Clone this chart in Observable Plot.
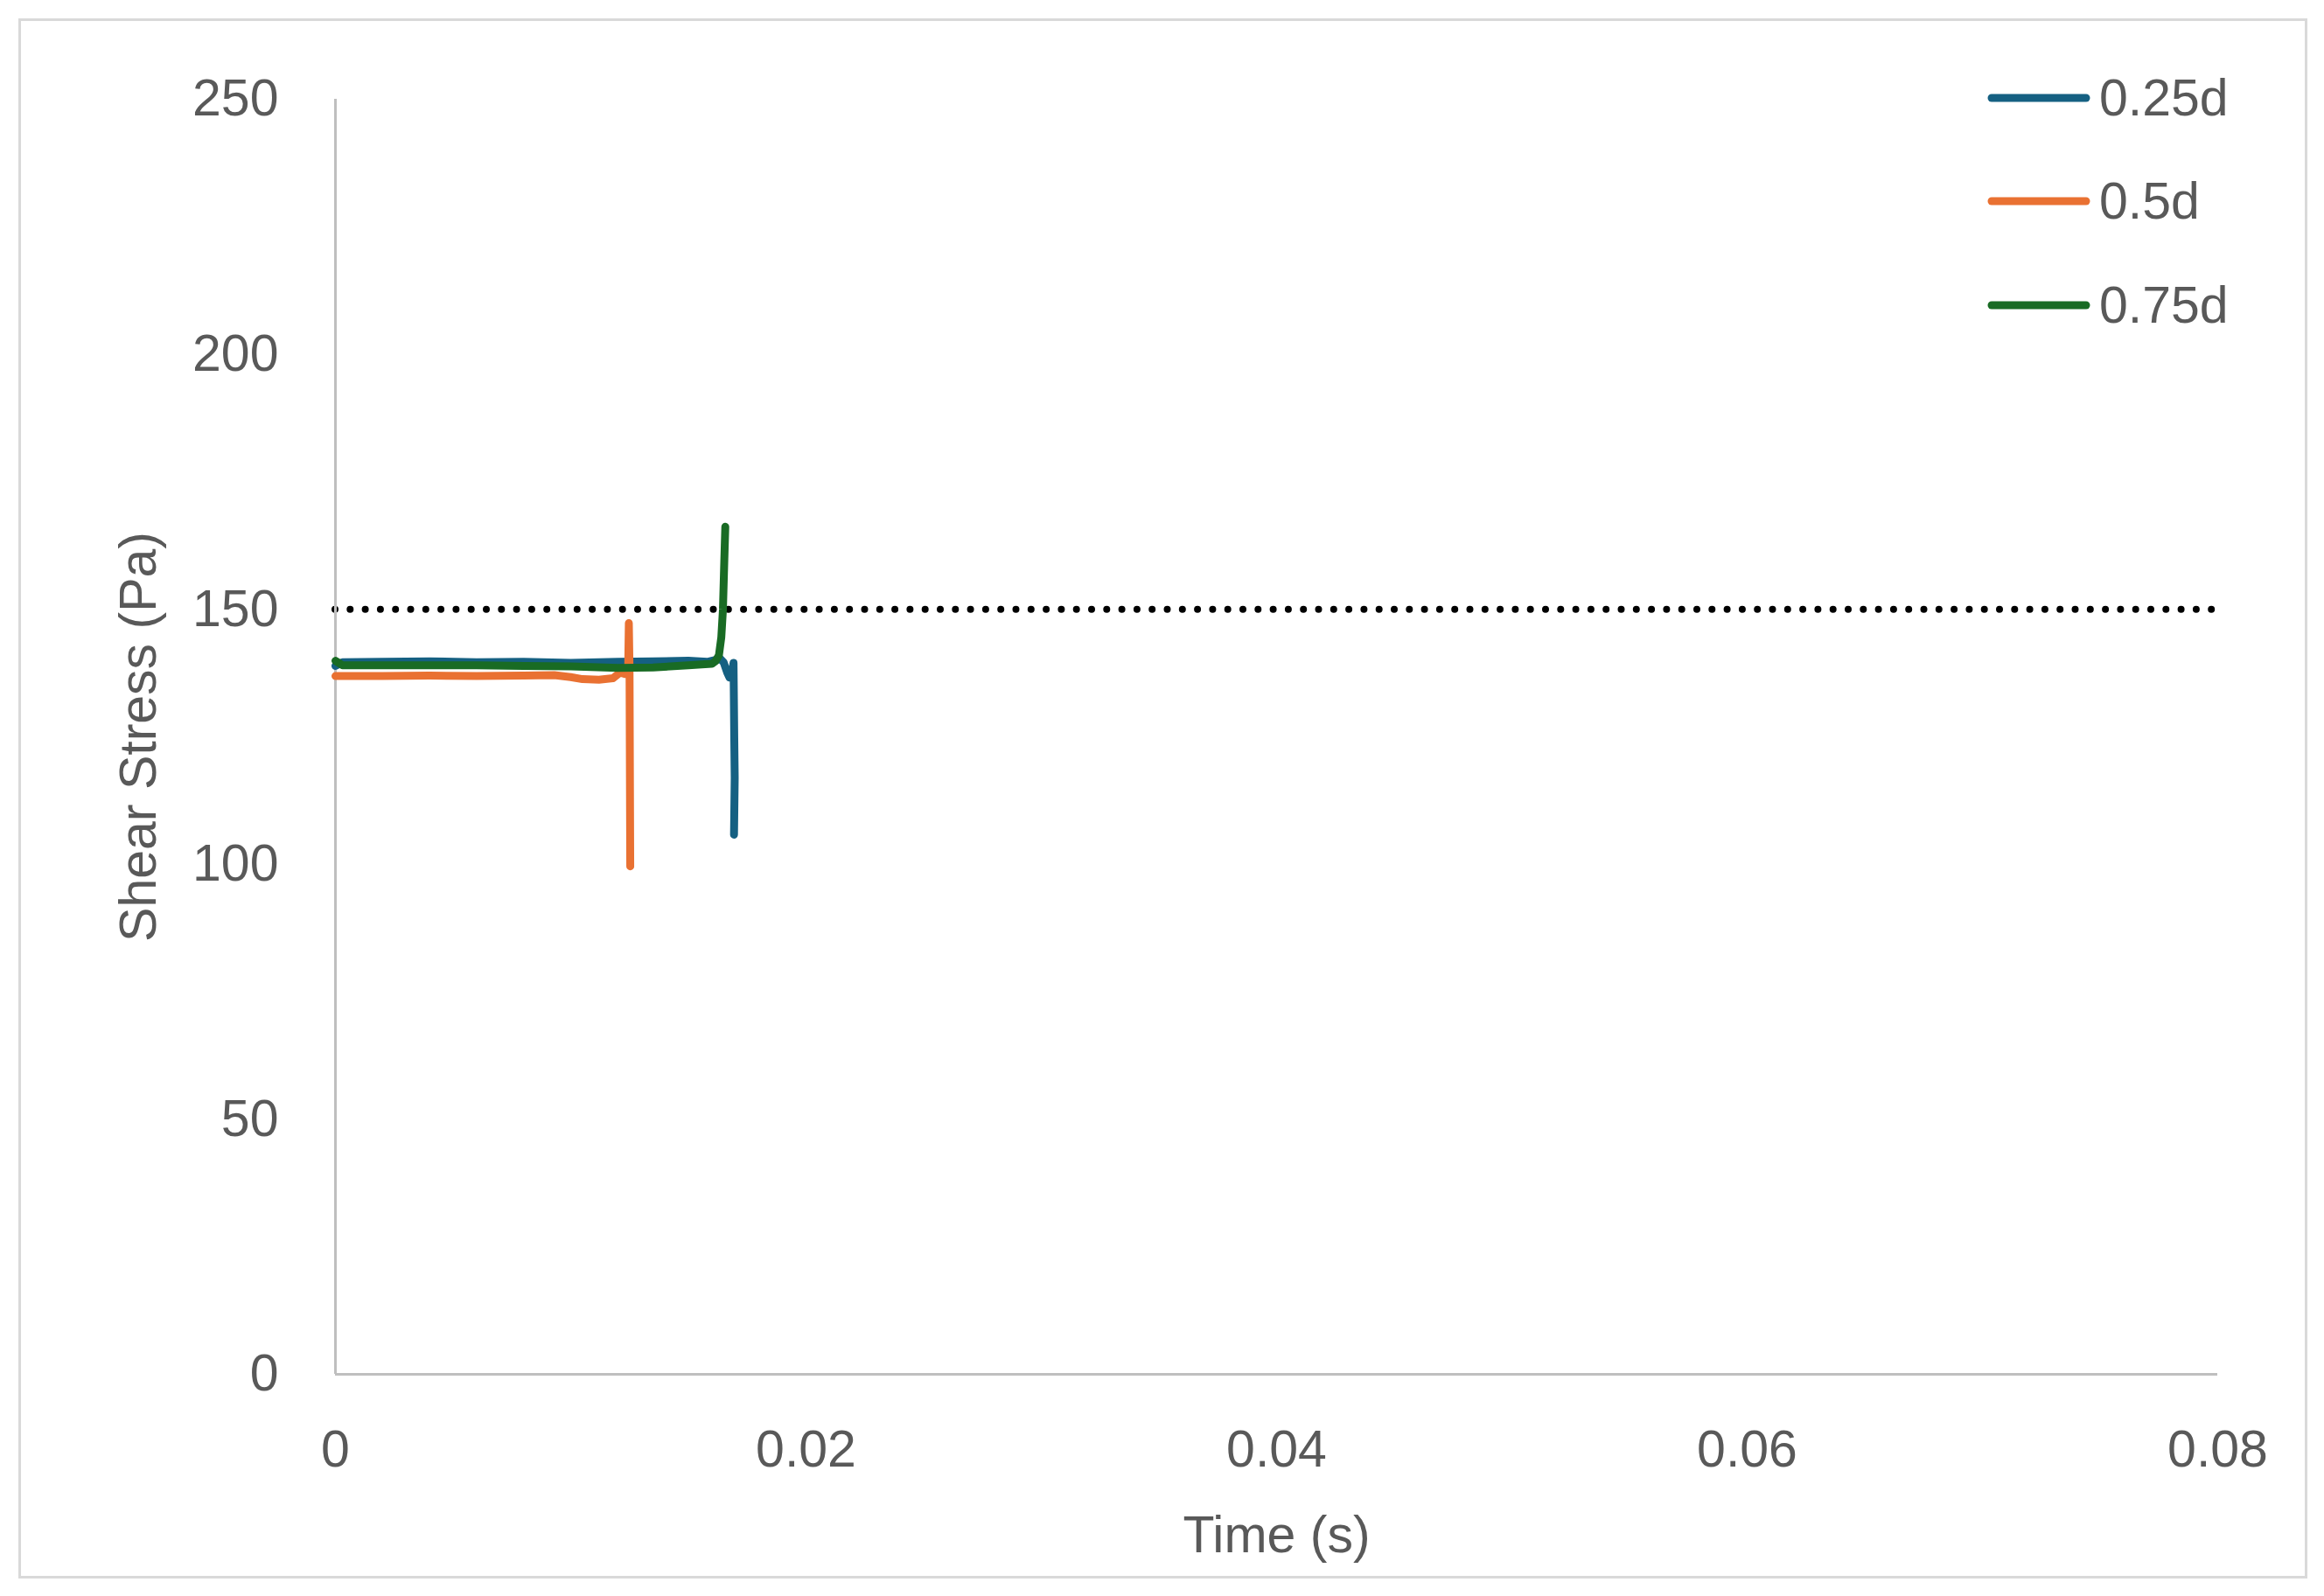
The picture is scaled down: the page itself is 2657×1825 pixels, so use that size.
<!DOCTYPE html>
<html>
<head>
<meta charset="utf-8">
<script src="https://cdn.jsdelivr.net/npm/d3@7"></script>
<script src="https://cdn.jsdelivr.net/npm/@observablehq/plot@0.6"></script>
<style>
  html, body { margin: 0; padding: 0; background: #fff; overflow: hidden; }
  #wrap { position: relative; width: 2657px; height: 1825px; }
  #border { position: absolute; left: 21px; top: 21px; width: 2617px; height: 1784px; box-sizing: border-box; border: 3px solid #D9D9D9; pointer-events: none; }
  #legend { position: absolute; left: 2272px; top: 0; font-family: "Liberation Sans", Arial, sans-serif; font-size: 59px; color: #595959; }
  .row { position: absolute; left: 0; display: flex; align-items: center; white-space: nowrap; transform: translateY(-50%); }
  .row svg { display: block; margin-right: 10px; }
</style>
</head>
<body>
<div id="wrap"><div id="border"></div><div id="legend"></div></div>
<script>
// Series names and colours
const seriesNames = ["0.25d", "0.5d", "0.75d"];
const seriesColors = ["#156082", "#E97132", "#196B24"];

// 0.25d : time (s) and shear stress (Pa)
const t025 = [0, 0.0003, 0.002, 0.004, 0.006, 0.008, 0.010, 0.012, 0.0135, 0.0150, 0.0158, 0.01635, 0.01650, 0.01665, 0.01675, 0.01685, 0.01692, 0.01695, 0.01697, 0.01694];
const v025 = [138.9, 139.6, 139.7, 139.8, 139.6, 139.7, 139.5, 139.7, 139.8, 139.9, 139.7, 140.3, 139.6, 137.6, 136.6, 137.2, 139.5, 125.0, 117.0, 105.8];

// 0.5d
const t05 = [0, 0.002, 0.004, 0.006, 0.008, 0.0093, 0.0100, 0.0105, 0.0112, 0.0118, 0.0121, 0.0123, 0.01244, 0.01247, 0.01250, 0.01253];
const v05 = [136.9, 136.9, 137.0, 136.9, 137.0, 137.1, 136.7, 136.3, 136.2, 136.5, 137.6, 137.3, 137.8, 147.3, 138.0, 99.6];

// 0.75d
const t075 = [0, 0.0003, 0.002, 0.004, 0.006, 0.008, 0.010, 0.012, 0.0135, 0.0150, 0.0160, 0.01615, 0.01630, 0.01640, 0.01647, 0.01653, 0.01657];
const v075 = [139.9, 139.0, 139.0, 139.0, 139.0, 138.9, 138.8, 138.5, 138.6, 139.0, 139.3, 139.8, 141.0, 144.5, 150.0, 160.0, 166.2];

// Reference threshold
const threshold = [150];

// Axis ticks
const xTicks = [0, 0.02, 0.04, 0.06, 0.08];
const yTicks = [0, 50, 100, 150, 200, 250];

const rows = [];
[[t025, v025], [t05, v05], [t075, v075]].forEach(([ts, vs], i) => {
  ts.forEach((t, j) => rows.push({series: seriesNames[i], t, v: vs[j]}));
});

const font = "'Liberation Sans', Arial, sans-serif";

const chart = Plot.plot({
  width: 2657,
  height: 1825,
  marginLeft: 383,
  marginRight: 122,
  marginTop: 113,
  marginBottom: 254,
  style: {fontFamily: font, fontSize: "59px", color: "#595959", background: "transparent"},
  x: {domain: [0, 0.08]},
  y: {domain: [0, 250]},
  color: {domain: seriesNames, range: seriesColors},
  marks: [
    Plot.ruleY(threshold, {stroke: "#000", strokeWidth: 8, strokeDasharray: "0 17.3", strokeLinecap: "round"}),
    Plot.ruleX([0], {stroke: "#BFBFBF", strokeWidth: 3}),
    Plot.ruleY([0], {stroke: "#BFBFBF", strokeWidth: 3}),
    Plot.line(rows, {x: "t", y: "v", z: "series", stroke: "series", strokeWidth: 9, strokeLinejoin: "round", strokeLinecap: "round"}),
    Plot.axisX({ticks: xTicks, tickSize: 0, tickPadding: 64, tickFormat: d => String(d), fontSize: 59,
      label: "Time (s)", labelAnchor: "center", labelOffset: 203, labelArrow: "none"}),
    Plot.axisY({ticks: yTicks, tickSize: 0, tickPadding: 65, fontSize: 59,
      label: "Shear Stress (Pa)", labelAnchor: "center", labelOffset: 247, labelArrow: "none"})
  ]
});
document.getElementById("wrap").prepend(chart);

// Legend (HTML), using series colours from the arrays
const legend = document.getElementById("legend");
const legendTops = [112, 230, 349];
seriesNames.forEach((name, i) => {
  const row = document.createElement("div");
  row.className = "row";
  row.style.top = legendTops[i] + "px";
  row.innerHTML = `<svg width="118" height="12"><line x1="5" y1="6" x2="113" y2="6" stroke="${seriesColors[i]}" stroke-width="9" stroke-linecap="round"/></svg><span>${name}</span>`;
  legend.appendChild(row);
});
</script>
</body>
</html>
